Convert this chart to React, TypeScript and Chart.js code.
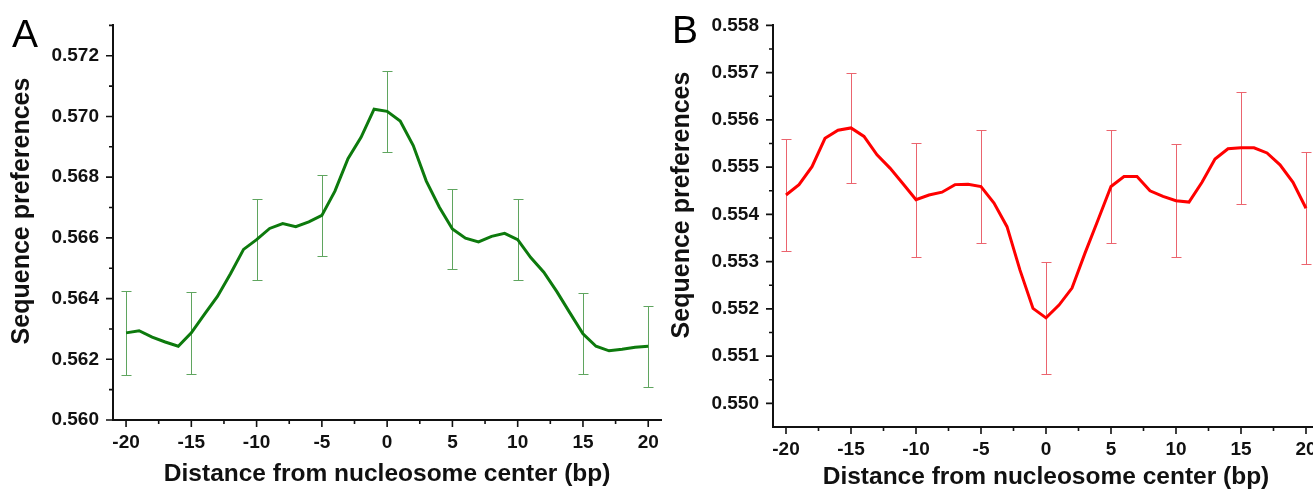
import React, { useEffect, useRef } from "react";
import { Chart, registerables } from "chart.js";

Chart.register(...registerables);

// ---------------- data ----------------
const distances = [
  -20, -19, -18, -17, -16, -15, -14, -13, -12, -11, -10, -9, -8, -7, -6, -5, -4, -3, -2, -1, 0,
  1, 2, 3, 4, 5, 6, 7, 8, 9, 10, 11, 12, 13, 14, 15, 16, 17, 18, 19, 20,
];

const preferenceA = [
  0.56287, 0.56294, 0.56273, 0.56257, 0.56243, 0.56287, 0.56348, 0.56407, 0.56482, 0.56562,
  0.56594, 0.56631, 0.56647, 0.56637, 0.56653, 0.56674, 0.56754, 0.56861, 0.56931, 0.57024,
  0.57017, 0.56985, 0.56904, 0.56787, 0.56701, 0.56629, 0.56599, 0.56587, 0.56605, 0.56615,
  0.56594, 0.56535, 0.56487, 0.56423, 0.56353, 0.56284, 0.56243, 0.56228, 0.56233, 0.5624,
  0.56243,
];

const preferenceB = [
  0.55441, 0.55463, 0.55501, 0.55561, 0.55578, 0.55583, 0.55565, 0.55526, 0.55498, 0.55465,
  0.55431, 0.55441, 0.55447, 0.55463, 0.55464, 0.55459, 0.55424, 0.55374, 0.55282, 0.55201,
  0.55181, 0.55208, 0.55244, 0.55318, 0.55388, 0.55459, 0.5548, 0.5548, 0.5545, 0.55438,
  0.55429, 0.55426, 0.55468, 0.55517, 0.55539, 0.55541, 0.55541, 0.5553, 0.55505, 0.55468,
  0.55413,
];

const errorDistances = [-20, -15, -10, -5, 0, 5, 10, 15, 20];
const errorA = [0.00138, 0.00135, 0.00134, 0.00134, 0.00133, 0.00133, 0.00134, 0.00134, 0.00134];
const errorB = [0.00118, 0.00117, 0.00121, 0.0012, 0.00119, 0.00119, 0.00119, 0.00119, 0.00119];

const xMajorTicks = [-20, -15, -10, -5, 0, 5, 10, 15, 20];
const xMinorTicks = [-17.5, -12.5, -7.5, -2.5, 2.5, 7.5, 12.5, 17.5];
const yMajorTicksA = [0.56, 0.562, 0.564, 0.566, 0.568, 0.57, 0.572];
const yMinorTicksA = [0.561, 0.563, 0.565, 0.567, 0.569, 0.571, 0.573];
const yMajorTicksB = [0.55, 0.551, 0.552, 0.553, 0.554, 0.555, 0.556, 0.557, 0.558];
const yMinorTicksB = [0.5505, 0.5515, 0.5525, 0.5535, 0.5545, 0.5555, 0.5565, 0.5575];

const xTitle = "Distance from nucleosome center (bp)";
const yTitle = "Sequence preferences";

// ---------------- layout / style ----------------
const FONT = "'Liberation Sans', Arial, sans-serif";

type Panel = {
  letter: string;
  values: number[];
  errors: number[];
  yMajor: number[];
  yMinor: number[];
  yMin: number;
  yMax: number;
  lineColor: string;
  errColor: string;
  left: number;
  width: number;
  height: number;
  padTop: number;
  padRight: number;
  xTitlePad: number;
  yTitleX: number;
  yTitleY: number;
  letterX: number;
  letterY: number;
};

const panels: Panel[] = [
  {
    letter: "A",
    values: preferenceA,
    errors: errorA,
    yMajor: yMajorTicksA,
    yMinor: yMinorTicksA,
    yMin: 0.56,
    yMax: 0.573,
    lineColor: "#0d7a0d",
    errColor: "rgb(95,165,95)",
    left: 0,
    width: 670,
    height: 492,
    padTop: 15,
    padRight: 8.5,
    xTitlePad: 3,
    yTitleX: 22.5,
    yTitleY: 211,
    letterX: 12,
    letterY: 47,
  },
  {
    letter: "B",
    values: preferenceB,
    errors: errorB,
    yMajor: yMajorTicksB,
    yMinor: yMinorTicksB,
    yMin: 0.5495,
    yMax: 0.558,
    lineColor: "#ff0000",
    errColor: "rgb(235,100,110)",
    left: 660,
    width: 670,
    height: 499,
    padTop: 25,
    padRight: 11,
    xTitlePad: 7,
    yTitleX: 22.5,
    yTitleY: 205,
    letterX: 12,
    letterY: 43,
  },
];

function makeDecorations(p: Panel) {
  return {
    id: "decorations" + p.letter,
    beforeDatasetsDraw(chart: any) {
      const { ctx } = chart;
      const x = chart.scales.x;
      const y = chart.scales.y;
      ctx.save();
      ctx.strokeStyle = p.errColor;
      ctx.lineWidth = 1;
      errorDistances.forEach((d, i) => {
        const idx = distances.indexOf(d);
        const mean = p.values[idx];
        const px = Math.round(x.getPixelForValue(d)) + 0.5;
        const top = Math.round(y.getPixelForValue(mean + p.errors[i])) + 0.5;
        const bot = Math.round(y.getPixelForValue(mean - p.errors[i])) + 0.5;
        ctx.beginPath();
        ctx.moveTo(px, top);
        ctx.lineTo(px, bot);
        ctx.moveTo(px - 5, top);
        ctx.lineTo(px + 5, top);
        ctx.moveTo(px - 5, bot);
        ctx.lineTo(px + 5, bot);
        ctx.stroke();
      });
      ctx.restore();
    },
    afterDraw(chart: any) {
      const { ctx, chartArea } = chart;
      const x = chart.scales.x;
      const y = chart.scales.y;
      ctx.save();
      ctx.strokeStyle = "#111";
      ctx.lineWidth = 1.6;
      ctx.beginPath();
      xMajorTicks.forEach((v) => {
        const px = x.getPixelForValue(v);
        ctx.moveTo(px, chartArea.bottom);
        ctx.lineTo(px, chartArea.bottom + 7);
      });
      xMinorTicks.forEach((v) => {
        const px = x.getPixelForValue(v);
        ctx.moveTo(px, chartArea.bottom);
        ctx.lineTo(px, chartArea.bottom + 4);
      });
      p.yMajor.forEach((v) => {
        const py = y.getPixelForValue(v);
        ctx.moveTo(chartArea.left, py);
        ctx.lineTo(chartArea.left - 7, py);
      });
      p.yMinor.forEach((v) => {
        const py = y.getPixelForValue(v);
        ctx.moveTo(chartArea.left, py);
        ctx.lineTo(chartArea.left - 4, py);
      });
      ctx.stroke();

      // y axis title
      ctx.fillStyle = "#111";
      ctx.font = `bold 25px ${FONT}`;
      ctx.textAlign = "center";
      ctx.textBaseline = "middle";
      ctx.translate(p.yTitleX, p.yTitleY);
      ctx.rotate(-Math.PI / 2);
      ctx.fillText(yTitle, 0, 0);
      ctx.setTransform(1, 0, 0, 1, 0, 0);

      // panel letter
      ctx.font = `39px ${FONT}`;
      ctx.textAlign = "left";
      ctx.textBaseline = "alphabetic";
      ctx.fillStyle = "#000";
      ctx.fillText(p.letter, p.letterX, p.letterY);
      ctx.restore();
    },
  };
}

function PanelChart({ p }: { p: Panel }) {
  const ref = useRef<HTMLCanvasElement | null>(null);
  useEffect(() => {
    if (!ref.current) return;
    const chart = new Chart(ref.current, {
      type: "line",
      data: {
        datasets: [
          {
            data: distances.map((d, i) => ({ x: d, y: p.values[i] })),
            borderColor: p.lineColor,
            borderWidth: 3,
            pointRadius: 0,
            tension: 0,
            fill: false,
          },
        ],
      },
      options: {
        responsive: false,
        animation: false,
        devicePixelRatio: 1,
        layout: { padding: { top: p.padTop, right: p.padRight, left: 0, bottom: 0 } },
        plugins: { legend: { display: false }, tooltip: { enabled: false } },
        scales: {
          x: {
            type: "linear",
            min: -21,
            max: 21,
            afterBuildTicks: (s: any) => {
              s.ticks = xMajorTicks.map((v) => ({ value: v }));
            },
            afterFit: (s: any) => {
              s.height = 72;
            },
            grid: { display: false, drawTicks: false },
            border: { display: true, color: "#111", width: 2 },
            ticks: {
              padding: 11,
              color: "#111",
              font: { family: FONT, size: 19, weight: "bold" },
              maxRotation: 0,
              callback: (v: any) => String(v),
            },
            title: {
              display: true,
              text: xTitle,
              color: "#111",
              font: { family: FONT, size: 24.5, weight: "bold" },
              padding: { top: 0, bottom: p.xTitlePad },
            },
          },
          y: {
            type: "linear",
            min: p.yMin,
            max: p.yMax,
            afterBuildTicks: (s: any) => {
              s.ticks = p.yMajor.map((v) => ({ value: v }));
            },
            afterFit: (s: any) => {
              s.width = 113;
            },
            grid: { display: false, drawTicks: false },
            border: { display: true, color: "#111", width: 2 },
            ticks: {
              padding: 14,
              color: "#111",
              font: { family: FONT, size: 19, weight: "bold" },
              callback: (v: any) => Number(v).toFixed(3),
            },
          },
        },
      } as any,
      plugins: [makeDecorations(p)],
    });
    return () => chart.destroy();
  }, [p]);
  return (
    <canvas
      ref={ref}
      width={p.width}
      height={p.height}
      style={{ position: "absolute", left: p.left, top: 0, width: p.width, height: p.height }}
    />
  );
}

export default function App() {
  return (
    <div
      style={{
        position: "absolute",
        left: 0,
        top: 0,
        width: 1313,
        height: 492,
        overflow: "hidden",
        background: "#fff",
      }}
    >
      {panels.map((p) => (
        <PanelChart key={p.letter} p={p} />
      ))}
    </div>
  );
}
